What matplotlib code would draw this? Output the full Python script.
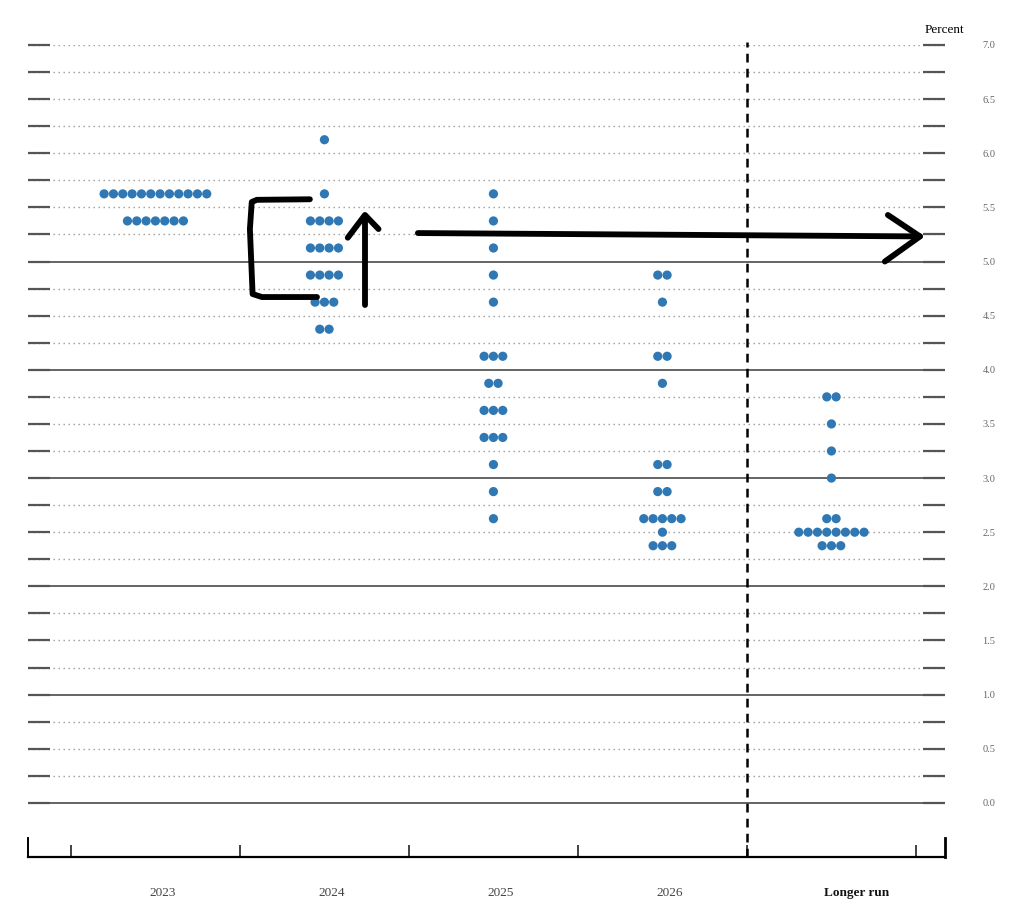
import numpy as np
import matplotlib
matplotlib.use("Agg")
import matplotlib.pyplot as plt
import matplotlib.transforms as mtransforms

# ---------------------------------- data ------------------------------------ #
columns = ['2023', '2024', '2025', '2026', 'Longer run']

rates_2023 = [5.625, 5.375]
counts_2023 = [12, 7]

rates_2024 = [6.125, 5.625, 5.375, 5.125, 4.875, 4.625, 4.375]
counts_2024 = [1, 1, 4, 4, 4, 3, 2]

rates_2025 = [5.625, 5.375, 5.125, 4.875, 4.625, 4.125, 3.875, 3.625, 3.375,
              3.125, 2.875, 2.625]
counts_2025 = [1, 1, 1, 1, 1, 3, 2, 3, 3, 1, 1, 1]

rates_2026 = [4.875, 4.625, 4.125, 3.875, 3.125, 2.875, 2.625, 2.5, 2.375]
counts_2026 = [2, 1, 2, 1, 2, 2, 5, 1, 3]

rates_lr = [3.75, 3.5, 3.25, 3.0, 2.625, 2.5, 2.375]
counts_lr = [2, 1, 1, 1, 2, 8, 3]

dot_rates = [rates_2023, rates_2024, rates_2025, rates_2026, rates_lr]
dot_counts = [counts_2023, counts_2024, counts_2025, counts_2026, counts_lr]

y_ticks = np.arange(0, 7.01, 0.25)
y_labels = ['{:.1f}'.format(v) if abs(v * 2 - round(v * 2)) < 1e-9 else ''
            for v in y_ticks]

# ---------------------------- figure and axes ------------------------------- #
serif = ['Liberation Serif', 'DejaVu Serif']
fig = plt.figure(figsize=(10.24, 9.19), dpi=100)
ax = fig.add_axes([28 / 1024, 62 / 919, 917 / 1024, 812 / 919])
ax.set_xlim(-0.754, 4.672)
ax.set_ylim(-0.5, 7.0)

# ------------------------------ grid lines ---------------------------------- #
for v in y_ticks:
    if v <= 5 and abs(v - round(v)) < 1e-9:
        ax.axhline(v, color='#3a3a3a', lw=1.1, zorder=1)
    else:
        ax.axhline(v, color='#9a9a9a', lw=1.0, ls=(0, (1, 2.6)), zorder=1)

# ---------------------------------- dots ------------------------------------ #
step = 0.0552
for i, (rates, counts) in enumerate(zip(dot_rates, dot_counts)):
    for r, n in zip(rates, counts):
        xs = i + (np.arange(n) - (n - 1) / 2) * step
        ax.scatter(xs, [r] * n, s=44, color='#2f78b4', edgecolor='none',
                   zorder=3)

# --------------------------- vertical divider ------------------------------- #
ax.axvline(3.5, ymin=0, ymax=1.004, color='black', lw=1.8,
           ls=(0, (3.5, 2.5)), clip_on=False, zorder=4)

# ---------------------------- axes & ticks ---------------------------------- #
for s in ['top']:
    ax.spines[s].set_visible(False)
ax.spines['bottom'].set_linewidth(1.6)
ax.spines['left'].set_bounds(-0.5, -0.325)
ax.spines['right'].set_bounds(-0.5, -0.325)
ax.spines['left'].set_linewidth(1.4)
ax.spines['right'].set_linewidth(2.0)

ax.set_xticks(np.arange(-0.5, 4.6, 1.0))
ax.set_xticklabels([])
ax.tick_params(axis='x', direction='in', length=9, width=1.2, color='#222')

ax.set_yticks(y_ticks)
ax.set_yticklabels(y_labels)
ax.tick_params(axis='y', direction='in', left=True, right=True,
               labelleft=False, labelright=True, length=16, width=1.6,
               color='#555', pad=27, labelsize=7.5, labelcolor='#666')
for lbl in ax.get_yticklabels():
    lbl.set_family(serif)

# column labels sit a little right of the column centres
label_shift = [0.045, 0.04, 0.04, 0.04, 0.15]
trans = mtransforms.blended_transform_factory(ax.transData, ax.transAxes)
for i, name in enumerate(columns):
    ax.text(i + label_shift[i], -0.044, name, transform=trans, ha='center',
            va='center', fontsize=9.5, family=serif,
            color='#111' if name == 'Longer run' else '#444',
            fontweight='bold' if name == 'Longer run' else 'normal')

fig.text(944 / 1024, 1 - 30 / 919, 'Percent', ha='center', va='center',
         fontsize=9.5, family=serif)

# ------------------------ hand drawn annotations ---------------------------- #
ink = dict(color='black', lw=4.2, solid_capstyle='round',
           solid_joinstyle='round', clip_on=False, zorder=6)
# bracket
ax.plot([0.914, 0.60, 0.57, 0.559, 0.575, 0.63, 0.956],
        [5.575, 5.57, 5.55, 5.30, 4.70, 4.672, 4.672], **ink)
# short up arrow
ax.plot([1.240, 1.240], [4.60, 5.42], **ink)
ax.plot([1.138, 1.240, 1.320], [5.22, 5.43, 5.30], **ink)
# long right arrow
ax.plot([1.553, 4.524], [5.263, 5.232], **ink)
ax.plot([4.334, 4.524, 4.316], [5.43, 5.232, 5.0], **ink)

fig.savefig('out.png', dpi=100)
